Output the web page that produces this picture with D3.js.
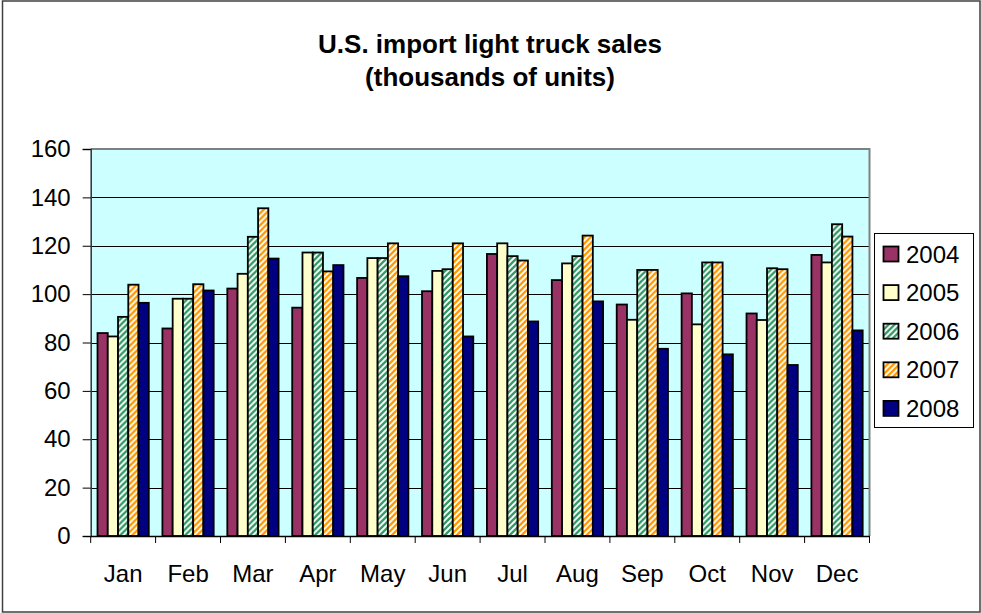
<!DOCTYPE html>
<html>
<head>
<meta charset="utf-8">
<script src="https://cdn.jsdelivr.net/npm/d3@7"></script>
<style>
  html, body { margin: 0; padding: 0; background: #ffffff; }
  svg { display: block; }
  text { font-family: "Liberation Sans", Arial, Helvetica, sans-serif; }
</style>
</head>
<body>
<script>
// ---------- data ----------
const months = ["Jan","Feb","Mar","Apr","May","Jun","Jul","Aug","Sep","Oct","Nov","Dec"];
const seriesNames = ["2004","2005","2006","2007","2008"];
const s2004 = [83.9, 85.8, 102.3, 94.4, 106.7, 101.2, 116.6, 105.8, 95.7, 100.3, 92.0, 116.2];
const s2005 = [82.5, 98.1, 108.4, 117.2, 114.9, 109.6, 121.0, 112.7, 89.4, 87.5, 89.3, 113.1];
const s2006 = [90.6, 98.1, 123.7, 117.2, 114.9, 110.3, 115.7, 115.7, 110.0, 113.1, 110.7, 128.9];
const s2007 = [103.9, 104.1, 135.5, 109.4, 121.0, 121.0, 113.9, 124.2, 110.0, 113.1, 110.3, 123.8];
const s2008 = [96.4, 101.5, 114.7, 112.0, 107.4, 82.5, 88.7, 97.0, 77.4, 75.1, 70.7, 85.0];
const yTicks = [0, 20, 40, 60, 80, 100, 120, 140, 160];
const titleLines = ["U.S. import light truck sales", "(thousands of units)"];

const seriesValues = [s2004, s2005, s2006, s2007, s2008];

// ---------- layout ----------
const W = 981, H = 613;
const plot = { left: 90.7, right: 869.5, top: 149, bottom: 536 };

const svg = d3.select("body").append("svg").attr("width", W).attr("height", H);
const defs = svg.append("defs");

function stripePattern(id, color) {
  const p = defs.append("pattern").attr("id", id)
    .attr("patternUnits", "userSpaceOnUse").attr("width", 6).attr("height", 6);
  p.append("rect").attr("width", 6).attr("height", 6).attr("fill", "#ffffff");
  p.append("path").attr("d", "M-1.5,1.5 L1.5,-1.5 M0,6 L6,0 M4.5,7.5 L7.5,4.5")
    .attr("stroke", color).attr("stroke-width", 2.3);
}
stripePattern("pat2006", "#339966");
stripePattern("pat2007", "#FF9900");

const fills = ["#993366", "#FFFFCC", "url(#pat2006)", "url(#pat2007)", "#000080"];

// chart border
svg.append("rect").attr("x", 2.5).attr("y", 1).attr("width", 977.5).attr("height", 611)
  .attr("fill", "#ffffff").attr("stroke", "#404040").attr("stroke-width", 1.5);

// title
svg.append("g").selectAll("text").data(titleLines).join("text")
  .attr("x", 490).attr("y", (d, i) => 53 + i * 33)
  .attr("text-anchor", "middle").attr("font-weight", "bold").attr("font-size", 26)
  .attr("fill", "#000").text(d => d);

// scales
const x0 = d3.scaleBand().domain(months).range([plot.left, plot.right])
  .paddingInner(0.21).paddingOuter(0.105);
const x1 = d3.scaleBand().domain(seriesNames).range([0, x0.bandwidth()]);
const y = d3.scaleLinear().domain([0, 160]).range([plot.bottom, plot.top]);

// plot background
svg.append("rect").attr("x", plot.left).attr("y", plot.top)
  .attr("width", plot.right - plot.left).attr("height", plot.bottom - plot.top)
  .attr("fill", "#CCFFFF");

// gridlines
svg.append("g").selectAll("line").data(yTicks.filter(t => t > 0 && t < 160)).join("line")
  .attr("x1", plot.left).attr("x2", plot.right)
  .attr("y1", d => Math.round(y(d)) + 0.5).attr("y2", d => Math.round(y(d)) + 0.5)
  .attr("stroke", "#000").attr("stroke-width", 1);

// plot border (gray)
svg.append("path")
  .attr("d", `M${plot.left},${plot.top} L${plot.right},${plot.top} L${plot.right},${plot.bottom}`)
  .attr("fill", "none").attr("stroke", "#808080").attr("stroke-width", 2);

// bars
const groups = svg.append("g").selectAll("g").data(months).join("g")
  .attr("transform", d => `translate(${x0(d)},0)`);
groups.selectAll("rect")
  .data((m, mi) => seriesNames.map((s, si) => ({ s, si, v: seriesValues[si][mi] })))
  .join("rect")
  .attr("x", d => x1(d.s))
  .attr("width", x1.bandwidth())
  .attr("y", d => y(d.v))
  .attr("height", d => y(0) - y(d.v))
  .attr("fill", d => fills[d.si])
  .attr("stroke", "#000").attr("stroke-width", 1.8);

// y axis
const yAxis = d3.axisLeft(y).tickValues(yTicks).tickSize(8).tickPadding(12);
const gy = svg.append("g").attr("transform", `translate(${plot.left},0)`).call(yAxis);
gy.select(".domain").attr("stroke", "#333").attr("stroke-width", 1.5);
gy.selectAll(".tick line").attr("stroke", "#000");
gy.selectAll(".tick text").attr("font-size", 24).attr("fill", "#000")
  .attr("font-family", "'Liberation Sans', Arial, sans-serif");

// x axis
const xAxis = d3.axisBottom(x0).tickSize(0).tickPadding(46);
const gx = svg.append("g").attr("transform", `translate(0,${plot.bottom})`).call(xAxis);
gx.select(".domain").attr("stroke", "#000").attr("stroke-width", 1.5);
gx.selectAll(".tick text").attr("font-size", 24).attr("fill", "#000")
  .attr("font-family", "'Liberation Sans', Arial, sans-serif")
  .attr("dy", "0em");
// category boundary tick marks
const boundaries = months.map(m => x0(m) - x0.step() * x0.paddingOuter()).concat([plot.right]);
svg.append("g").selectAll("line").data(boundaries).join("line")
  .attr("x1", d => d).attr("x2", d => d)
  .attr("y1", plot.bottom).attr("y2", plot.bottom + 7)
  .attr("stroke", "#000").attr("stroke-width", 1);

// legend
const legend = svg.append("g");
legend.append("rect").attr("x", 874.5).attr("y", 233.5).attr("width", 99).attr("height", 194)
  .attr("fill", "#fff").attr("stroke", "#000").attr("stroke-width", 1);
const li = legend.selectAll("g.item").data(seriesNames).join("g").attr("class", "item")
  .attr("transform", (d, i) => `translate(0,${254 + i * 38.6})`);
li.append("rect").attr("x", 883.5).attr("y", -7.5).attr("width", 15).attr("height", 15)
  .attr("fill", (d, i) => fills[i]).attr("stroke", "#000").attr("stroke-width", 1.8);
li.append("text").attr("x", 906).attr("y", 8.5).attr("font-size", 24).attr("fill", "#000")
  .text(d => d);
</script>
</body>
</html>
